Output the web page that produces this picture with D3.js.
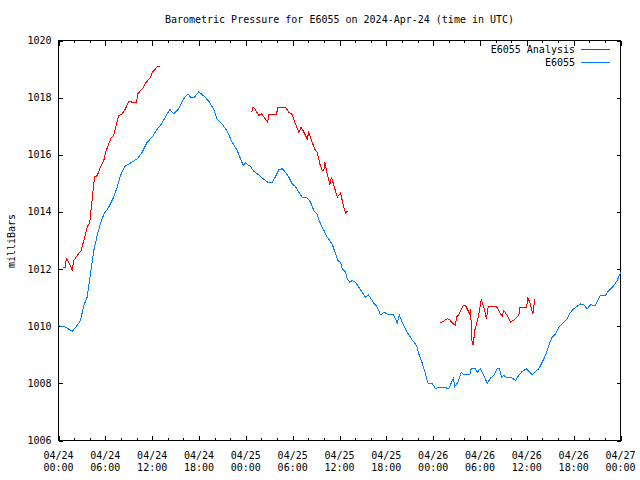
<!DOCTYPE html>
<html>
<head>
<meta charset="utf-8">
<script src="https://cdn.jsdelivr.net/npm/d3@7"></script>
<style>
  html, body { margin: 0; padding: 0; background: #fff; }
  svg { display: block; }
  text { font-family: "DejaVu Sans Mono", "Liberation Mono", monospace; font-size: 10px; fill: #000; }
</style>
</head>
<body>
<svg id="chart" width="640" height="480"></svg>
<script>
// ---- data (hours since 2024-04-24 00:00 UTC, pressure in mb) ----
const chartTitle = "Barometric Pressure for E6055 on 2024-Apr-24 (time in UTC)";
const yTitle = "milliBars";
const seriesNames = ["E6055 Analysis", "E6055"];
const yTicks = [1006, 1008, 1010, 1012, 1014, 1016, 1018, 1020];
const xTickHours = [0, 6, 12, 18, 24, 30, 36, 42, 48, 54, 60, 66, 72];
const xTickDates = ["04/24","04/24","04/24","04/24","04/25","04/25","04/25","04/25","04/26","04/26","04/26","04/26","04/27"];
const xTickTimes = ["00:00","06:00","12:00","18:00","00:00","06:00","12:00","18:00","00:00","06:00","12:00","18:00","00:00"];

const observed = [
  [0,1010.03],[0.26,1010.0],[0.9,1009.97],[1.76,1009.82],[2.4,1010.03],[2.82,1010.2],[3.24,1010.73],
  [3.68,1011.02],[4.1,1011.85],[4.52,1012.65],[4.96,1013.18],[5.38,1013.6],[5.8,1013.91],[6.44,1014.17],
  [7.08,1014.52],[7.52,1014.87],[7.94,1015.27],[8.46,1015.59],[9.22,1015.71],[10.08,1015.86],[10.72,1016.09],
  [11.36,1016.44],[12.0,1016.62],[12.56,1016.87],[13.07,1017.03],[13.71,1017.32],[14.26,1017.59],[14.77,1017.43],
  [15.41,1017.61],[16.05,1017.96],[16.57,1018.13],[16.91,1018.02],[17.42,1018.02],[17.97,1018.2],[18.62,1018.06],
  [19.26,1017.87],[19.9,1017.59],[20.33,1017.24],[20.97,1017.08],[21.61,1016.82],[22.25,1016.44],[22.89,1016.15],
  [23.32,1015.86],[23.66,1015.63],[23.96,1015.71],[24.6,1015.59],[25.02,1015.42],[25.66,1015.3],[26.3,1015.14],
  [26.94,1015.02],[27.38,1015.02],[27.8,1015.24],[28.22,1015.47],[28.66,1015.51],[29.08,1015.39],[29.5,1015.22],
  [29.94,1014.98],[30.36,1014.89],[30.79,1014.69],[31.22,1014.52],[31.86,1014.49],[32.28,1014.34],[32.71,1014.05],
  [33.14,1013.91],[33.57,1013.58],[34.01,1013.35],[34.42,1013.12],[35.06,1012.88],[35.49,1012.53],[35.78,1012.3],
  [36.13,1012.24],[36.35,1012.01],[36.77,1011.89],[36.99,1011.66],[37.32,1011.54],[37.63,1011.6],[38.05,1011.54],
  [38.47,1011.37],[38.91,1011.19],[39.33,1011.02],[39.68,1011.1],[39.97,1010.99],[40.39,1010.81],[40.83,1010.67],
  [41.25,1010.4],[41.77,1010.49],[42.19,1010.4],[42.88,1010.4],[43.17,1010.26],[43.39,1010.11],[43.65,1010.4],
  [44.03,1010.14],[44.67,1009.79],[45.31,1009.52],[45.86,1009.33],[46.16,1009.03],[46.6,1008.71],[47.02,1008.33],
  [47.34,1008.0],[47.88,1008.0],[48.3,1007.81],[48.72,1007.87],[49.36,1007.87],[50.0,1007.81],[50.57,1008.18],
  [50.77,1007.89],[51.16,1008.04],[51.59,1008.39],[51.93,1008.3],[52.69,1008.3],[52.87,1008.51],[53.42,1008.51],
  [53.64,1008.39],[54.06,1008.51],[54.49,1008.28],[54.92,1008.0],[55.35,1008.19],[55.77,1008.28],[56.2,1008.51],
  [56.5,1008.51],[56.75,1008.22],[57.05,1008.28],[57.48,1008.19],[58.12,1008.19],[58.55,1008.1],[58.97,1008.28],
  [59.41,1008.42],[59.96,1008.51],[60.25,1008.42],[60.69,1008.3],[61.11,1008.42],[61.53,1008.51],[61.97,1008.74],
  [62.39,1008.98],[62.81,1009.33],[63.25,1009.62],[63.67,1009.73],[64.1,1009.97],[64.74,1010.14],[65.17,1010.26],
  [65.6,1010.49],[66.02,1010.61],[66.88,1010.78],[67.3,1010.75],[67.73,1010.61],[68.16,1010.75],[68.8,1010.73],
  [69.44,1011.08],[70.08,1011.08],[70.5,1011.25],[71.07,1011.39],[71.58,1011.6],[72,1011.88]
];

const analysis1 = [
  [0.6,1012.07],[0.9,1012.07],[0.99,1012.38],[1.32,1012.24],[1.76,1011.97],[1.96,1012.3],[2.4,1012.48],
  [2.91,1012.65],[3.24,1013.0],[3.68,1013.47],[4.01,1013.64],[4.32,1014.46],[4.61,1015.22],[4.96,1015.27],
  [5.38,1015.57],[5.8,1015.8],[6.11,1016.15],[6.44,1016.38],[6.75,1016.59],[7.08,1016.68],[7.39,1017.03],
  [7.73,1017.38],[8.16,1017.43],[8.58,1017.61],[9.01,1017.88],[9.44,1017.84],[9.99,1017.84],[10.16,1018.13],
  [10.5,1018.25],[10.85,1018.34],[11.06,1018.48],[11.44,1018.6],[11.79,1018.72],[12.0,1018.89],[12.43,1019.01],
  [12.64,1019.09],[12.98,1019.09]
];
const analysis2 = [
  [24.73,1017.49],[24.94,1017.67],[25.24,1017.57],[25.66,1017.38],[26.01,1017.43],[26.39,1017.29],[26.81,1017.14],
  [26.94,1017.41],[27.95,1017.41],[28.06,1017.67],[28.66,1017.64],[29.08,1017.67],[29.5,1017.49],[29.94,1017.41],
  [30.36,1017.08],[30.79,1016.79],[31.09,1016.97],[31.64,1016.68],[31.86,1016.56],[32.07,1016.79],[32.5,1016.44],
  [32.8,1016.21],[33.14,1016.09],[33.48,1015.68],[33.78,1015.45],[33.99,1015.45],[34.12,1015.74],[34.42,1015.33],
  [34.76,1014.96],[34.98,1015.22],[35.27,1014.93],[35.71,1014.52],[36.13,1014.66],[36.55,1014.17],[36.77,1013.96],
  [36.99,1014.03]
];
const analysis3 = [
  [48.85,1010.11],[49.29,1010.17],[49.8,1010.26],[50.13,1010.22],[50.57,1010.08],[50.86,1010.03],[50.99,1010.32],
  [51.28,1010.4],[51.85,1010.73],[52.14,1010.73],[52.69,1010.43],[52.78,1010.61],[53.0,1009.35],[53.13,1009.35],
  [53.33,1009.85],[53.72,1010.26],[53.94,1010.55],[54.15,1010.92],[54.49,1010.67],[54.83,1010.26],[55.05,1010.67],
  [55.43,1010.69],[56.11,1010.69],[56.84,1010.34],[57.05,1010.55],[57.48,1010.38],[57.91,1010.14],[58.55,1010.26],
  [58.97,1010.38],[59.1,1010.67],[59.96,1010.67],[60.13,1010.99],[60.39,1010.84],[60.77,1010.43],[61.02,1010.96]
];

// ---- drawing ----
const colors = ["#ff0000", "#0080ff"];
const svg = d3.select("#chart");
const L = 58.5, R = 620.5, T = 40.5, B = 440.5;

const x = d3.scaleLinear().domain([0, 72]).range([L, R]);
const y = d3.scaleLinear().domain([1006, 1020]).range([B, T]);

// title
svg.append("text").attr("x", (L + R) / 2).attr("y", 23).attr("text-anchor", "middle").text(chartTitle);

// y title
svg.append("text").attr("transform", "translate(15,241) rotate(-90)").attr("text-anchor", "middle").text(yTitle);

// axes via d3 axis generators (inward ticks)
const minorHours = d3.range(0, 73, 2).filter(h => h % 6 !== 0);

function xAxisGroup(pos, dir) {
  const g = svg.append("g").attr("transform", `translate(0,${pos})`);
  g.call(d3.axisBottom(x).tickValues(xTickHours).tickSize(dir * 5).tickFormat(""));
  const g2 = svg.append("g").attr("transform", `translate(0,${pos})`);
  g2.call(d3.axisBottom(x).tickValues(minorHours).tickSize(dir * 2.5).tickFormat(""));
  [g, g2].forEach(gg => { gg.select(".domain").remove(); gg.selectAll("line").attr("stroke", "#000").attr("shape-rendering", "crispEdges"); });
}
xAxisGroup(B, -1);
xAxisGroup(T, 1);

function yAxisGroup(pos, dir) {
  const g = svg.append("g").attr("transform", `translate(${pos},0)`);
  g.call(d3.axisLeft(y).tickValues(yTicks).tickSize(dir * 4).tickFormat(""));
  g.select(".domain").remove();
  g.selectAll("line").attr("stroke", "#000").attr("shape-rendering", "crispEdges");
}
yAxisGroup(L, -1);
yAxisGroup(R, 1);

// y tick labels
svg.append("g").selectAll("text").data(yTicks).join("text")
  .attr("x", L - 7).attr("y", d => y(d) + 3.5).attr("text-anchor", "end").text(d => d);

// x tick labels (two lines)
const xl = svg.append("g").selectAll("text").data(xTickHours).join("text")
  .attr("text-anchor", "middle").attr("x", d => x(d));
xl.append("tspan").attr("x", d => x(d)).attr("y", 459).text((d, i) => xTickDates[i]);
xl.append("tspan").attr("x", d => x(d)).attr("y", 471).text((d, i) => xTickTimes[i]);

// frame
svg.append("rect").attr("x", L).attr("y", T).attr("width", R - L).attr("height", B - T)
  .attr("fill", "none").attr("stroke", "#000").attr("shape-rendering", "crispEdges");

// lines
const line = d3.line().x(d => x(d[0])).y(d => y(d[1]));
[analysis1, analysis2, analysis3].forEach(seg => {
  svg.append("path").datum(seg).attr("d", line).attr("fill", "none")
    .attr("stroke", colors[0]).attr("stroke-width", 1).attr("shape-rendering", "crispEdges");
});
svg.append("path").datum(observed).attr("d", line).attr("fill", "none")
  .attr("stroke", colors[1]).attr("stroke-width", 1).attr("shape-rendering", "crispEdges");

// legend
seriesNames.forEach((name, i) => {
  const ly = 49.5 + i * 13;
  svg.append("text").attr("x", 575).attr("y", ly + 3.5).attr("text-anchor", "end").text(name);
  svg.append("line").attr("x1", 581).attr("x2", 610).attr("y1", ly).attr("y2", ly)
    .attr("stroke", colors[i]).attr("stroke-width", 1).attr("shape-rendering", "crispEdges");
});
</script>
</body>
</html>
